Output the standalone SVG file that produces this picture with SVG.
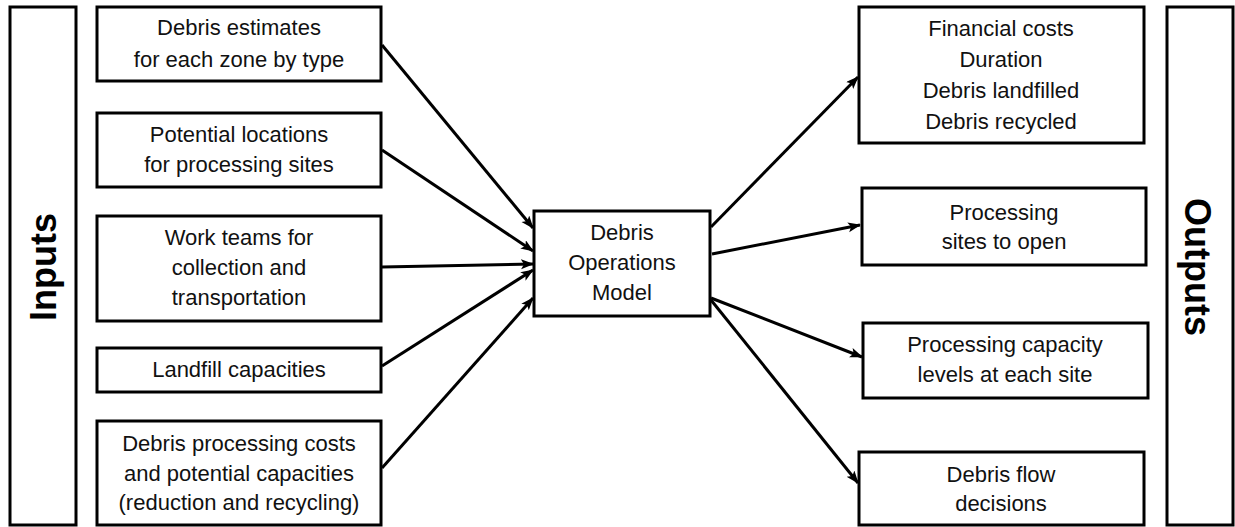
<svg xmlns="http://www.w3.org/2000/svg" width="1235" height="527" viewBox="0 0 1235 527">
<style>
.box{fill:#fff;stroke:#000;stroke-width:3}
.t{font-family:"Liberation Sans",Arial,sans-serif;font-size:22px;fill:#111;text-anchor:middle}
.big{font-family:"Liberation Sans",Arial,sans-serif;font-size:36px;font-weight:bold;fill:#000;text-anchor:middle}
.c{stroke:#000;stroke-width:3;fill:none;marker-end:url(#ah)}
</style>
<defs>
<marker id="ah" markerUnits="userSpaceOnUse" markerWidth="14" markerHeight="12" refX="12" refY="5" orient="auto">
<path d="M0,0 L13,5 L0,10 L3,5 Z" fill="#000"/>
</marker>
</defs>
<rect width="1235" height="527" fill="#fff"/>
<g id="inputs-bar">
<rect class="box" x="10" y="7" width="66" height="518"/>
<text class="big" transform="translate(56,267) rotate(-90)">Inputs</text>
</g>
<g id="outputs-bar">
<rect class="box" x="1167" y="7" width="66" height="518"/>
<text class="big" transform="translate(1185,267) rotate(90)">Outputs</text>
</g>
<g id="in1">
<rect class="box" x="97" y="7" width="284" height="74"/>
<text class="t" x="239" y="35">Debris estimates</text>
<text class="t" x="239" y="67">for each zone by type</text>
</g>
<g id="in2">
<rect class="box" x="97" y="113" width="284" height="74"/>
<text class="t" x="239" y="142">Potential locations</text>
<text class="t" x="239" y="172">for processing sites</text>
</g>
<g id="in3">
<rect class="box" x="97" y="216" width="284" height="105"/>
<text class="t" x="239" y="245">Work teams for</text>
<text class="t" x="239" y="275">collection and</text>
<text class="t" x="239" y="305">transportation</text>
</g>
<g id="in4">
<rect class="box" x="97" y="348" width="284" height="44"/>
<text class="t" x="239" y="377">Landfill capacities</text>
</g>
<g id="in5">
<rect class="box" x="97" y="421" width="284" height="104"/>
<text class="t" x="239" y="451">Debris processing costs</text>
<text class="t" x="239" y="481">and potential capacities</text>
<text class="t" x="239" y="510">(reduction and recycling)</text>
</g>
<g id="model">
<rect class="box" x="534" y="211" width="176" height="105"/>
<text class="t" x="622" y="240">Debris</text>
<text class="t" x="622" y="270">Operations</text>
<text class="t" x="622" y="300">Model</text>
</g>
<g id="out1">
<rect class="box" x="859" y="7" width="285" height="136"/>
<text class="t" x="1001" y="36">Financial costs</text>
<text class="t" x="1001" y="67">Duration</text>
<text class="t" x="1001" y="98">Debris landfilled</text>
<text class="t" x="1001" y="129">Debris recycled</text>
</g>
<g id="out2">
<rect class="box" x="862" y="188" width="284" height="77"/>
<text class="t" x="1004" y="220">Processing</text>
<text class="t" x="1004" y="249">sites to open</text>
</g>
<g id="out3">
<rect class="box" x="863" y="323" width="285" height="75"/>
<text class="t" x="1005" y="352">Processing capacity</text>
<text class="t" x="1005" y="382">levels at each site</text>
</g>
<g id="out4">
<rect class="box" x="859" y="452" width="285" height="73"/>
<text class="t" x="1001" y="482">Debris flow</text>
<text class="t" x="1001" y="511">decisions</text>
</g>
<g id="connectors">
<line class="c" x1="382" y1="45" x2="533" y2="228"/>
<line class="c" x1="382" y1="150" x2="533" y2="251"/>
<line class="c" x1="382" y1="267" x2="533" y2="264"/>
<line class="c" x1="382" y1="366" x2="533" y2="270"/>
<line class="c" x1="382" y1="468" x2="533" y2="298"/>
<line class="c" x1="711" y1="227" x2="858" y2="77"/>
<line class="c" x1="712" y1="254" x2="860" y2="225"/>
<line class="c" x1="711" y1="298" x2="862" y2="357"/>
<line class="c" x1="711" y1="300" x2="858" y2="483"/>
</g>
</svg>
